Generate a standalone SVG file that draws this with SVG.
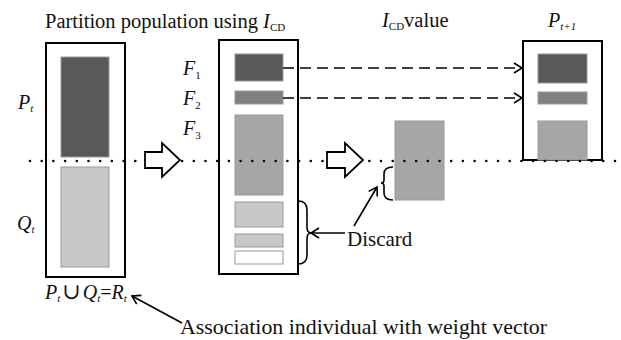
<svg xmlns="http://www.w3.org/2000/svg" width="621" height="340" viewBox="0 0 621 340">
<style>
.t{font-family:'Liberation Serif','DejaVu Serif',serif;fill:#111}
.it{font-style:italic}
.sub{font-size:11px}
.box{fill:#fff;stroke:#000;stroke-width:2}
.r{stroke:#9a9a9a;stroke-width:1}
.dark{fill:#595959}.med{fill:#808080}.gray{fill:#a6a6a6}.light{fill:#c8c8c8}.white{fill:#fff}
.line{fill:none;stroke:#000;stroke-width:1.6}
.dash{fill:none;stroke:#000;stroke-width:1.6;stroke-dasharray:11 6}
.hollow{fill:#fff;stroke:#000;stroke-width:1.8;stroke-linejoin:miter}
.dots{fill:none;stroke:#000;stroke-width:2.6;stroke-linecap:round;stroke-dasharray:0 11.7}
</style>
<defs>
<marker id="open" markerWidth="12" markerHeight="12" refX="10" refY="6" orient="auto" markerUnits="userSpaceOnUse">
<path d="M2,1 L10,6 L2,11" fill="none" stroke="#000" stroke-width="1.6"/>
</marker>
</defs>

<g id="title" font-family="Liberation Serif, DejaVu Serif, serif">
<text class="t" x="45" y="28" font-size="20.5">Partition population using <tspan class="it">I</tspan><tspan class="sub" dy="3">CD</tspan></text>
</g>
<g id="icd-label" font-family="Liberation Serif, DejaVu Serif, serif">
<text class="t" x="382" y="27" font-size="20.5"><tspan class="it">I</tspan><tspan class="sub" dy="3">CD</tspan><tspan dy="-3">value</tspan></text>
</g>

<g id="left-box" font-family="Liberation Serif, DejaVu Serif, serif">
<rect class="box" x="46" y="43" width="79" height="234"/>
<rect class="r dark" x="61" y="57" width="48" height="100"/>
<rect class="r light" x="61" y="167" width="48" height="100"/>
<text class="t" x="18" y="109" font-size="20"><tspan class="it">P</tspan><tspan class="sub it" dy="3">t</tspan></text>
<text class="t" x="17" y="230" font-size="20"><tspan class="it">Q</tspan><tspan class="sub it" dy="3">t</tspan></text>
</g>

<g id="middle-box" font-family="Liberation Serif, DejaVu Serif, serif">
<rect class="box" x="219" y="40" width="79" height="234"/>
<rect class="r dark" x="235" y="54" width="48" height="27"/>
<rect class="r med" x="235" y="91" width="48" height="13"/>
<rect class="r gray" x="235" y="115" width="48" height="80"/>
<rect class="r light" x="235" y="202" width="48" height="25"/>
<rect class="r light" x="235" y="234" width="48" height="13"/>
<rect class="r white" x="235" y="251" width="48" height="13"/>
<text class="t" x="183" y="75" font-size="20"><tspan class="it">F</tspan><tspan class="sub" dy="4">1</tspan></text>
<text class="t" x="183" y="105" font-size="20"><tspan class="it">F</tspan><tspan class="sub" dy="4">2</tspan></text>
<text class="t" x="183" y="135" font-size="20"><tspan class="it">F</tspan><tspan class="sub" dy="4">3</tspan></text>
</g>

<g id="center-rect">
<rect class="r gray" x="395" y="121" width="49" height="79"/>
</g>

<g id="right-box" font-family="Liberation Serif, DejaVu Serif, serif">
<rect class="box" x="523" y="41" width="79" height="119"/>
<rect class="r dark" x="538" y="54" width="49" height="29"/>
<rect class="r med" x="538" y="92" width="49" height="12"/>
<rect class="r gray" x="538" y="121" width="49" height="39"/>
<text class="t" x="548" y="27" font-size="20"><tspan class="it">P</tspan><tspan class="sub it" dy="3">t+1</tspan></text>
</g>

<g id="union-label" font-family="Liberation Serif, DejaVu Serif, serif">
<text class="t" x="45" y="299" font-size="20"><tspan class="it">P</tspan><tspan class="sub it" dy="3">t</tspan><tspan dy="-3" dx="2" font-size="22">∪</tspan><tspan class="it" dx="2">Q</tspan><tspan class="sub it" dy="3">t</tspan><tspan dy="-3">=</tspan><tspan class="it">R</tspan><tspan class="sub it" dy="3">t</tspan></text>
</g>

<g id="discard-label" font-family="Liberation Serif, DejaVu Serif, serif">
<text class="t" x="347" y="246" font-size="21">Discard</text>
</g>

<g id="association-label" font-family="Liberation Serif, DejaVu Serif, serif">
<text class="t" x="180" y="334" font-size="21" textLength="367" lengthAdjust="spacingAndGlyphs">Association individual with weight vector</text>
</g>

<g id="connectors">
<path class="dots" d="M30,161 H618"/>
<path class="hollow" d="M145,152 H162 V143 L180,160 L162,177 V168 H145 Z"/>
<path class="hollow" d="M327,152 H345 V143 L363,160 L345,177 V168 H327 Z"/>
<path class="dash" d="M283,68 H522" marker-end="url(#open)"/>
<path class="dash" d="M283,98 H522" marker-end="url(#open)"/>
<path class="line" d="M298,201 Q307,201 307,210 V227 Q307,233 311,233 Q307,233 307,239 V255 Q307,264 298,264"/>
<path class="line" d="M345,233 H311" marker-end="url(#open)"/>
<path class="line" d="M393,167 Q384,167 384,174 V180 Q384,183 381,183 Q384,183 384,186 V193 Q384,200 393,200"/>
<path class="line" d="M354,226 L377,187" marker-end="url(#open)"/>
<path class="line" d="M182,323 L132,296" marker-end="url(#open)"/>
</g>
</svg>
